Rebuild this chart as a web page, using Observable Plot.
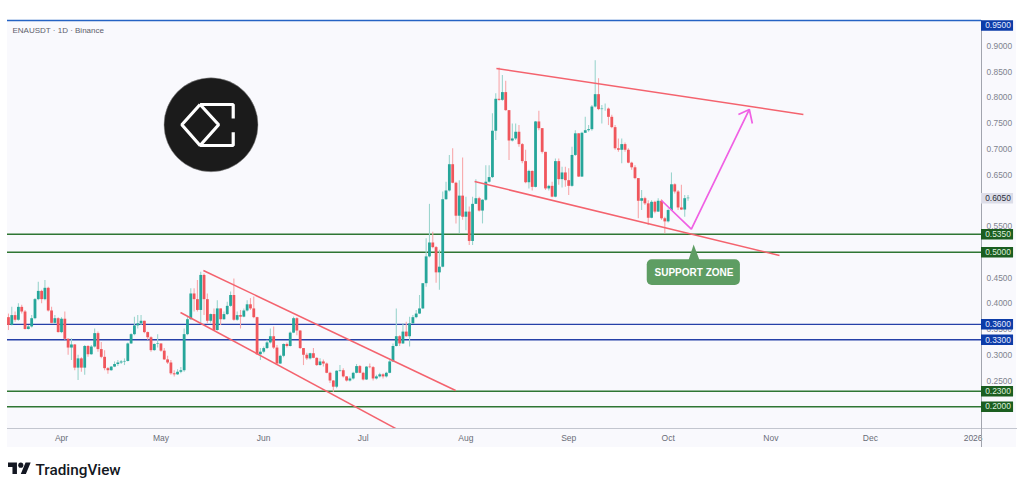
<!DOCTYPE html>
<html>
<head>
<meta charset="utf-8">
<script src="https://cdn.jsdelivr.net/npm/d3@7"></script>
<script src="https://cdn.jsdelivr.net/npm/@observablehq/plot@0.6"></script>
<style>
html,body{margin:0;padding:0;background:#fff;width:1024px;height:490px;overflow:hidden}
#wrap{position:relative;width:1024px;height:490px}
#panel{position:absolute;left:7px;top:20px;width:1009px;height:427px;background:#f9f9fd}
#chart{position:absolute;left:0;top:0}
#tv{position:absolute;left:8px;top:460px}
</style>
</head>
<body>
<div id="wrap">
<div id="panel"></div>
<div id="chart"></div>
<svg id="tv" width="23" height="18" viewBox="0 0 36 28"><path fill="#131722" d="M14 22H7V11H0V4h14v18zM28 22h-8l7.5-18h8L28 22z"/><circle fill="#131722" cx="20" cy="8" r="4"/></svg>
</div>
<script>
const firstDate = new Date(Date.UTC(2025, 2, 16));
const firstOpen = 0.373;
const closes = [.358,.377,.368,.393,.384,.350,.355,.371,.408,.424,.408,.430,.386,.362,.371,.344,.370,.331,.314,.320,
.275,.293,.275,.317,.301,.316,.342,.311,.296,.274,.270,.277,.282,.285,.287,.288,.322,.340,.357,.361,
.366,.344,.334,.309,.321,.322,.308,.291,.285,.264,.262,.267,.270,.340,.369,.419,.408,.387,.455,.408,
.366,.379,.348,.390,.369,.379,.395,.416,.368,.377,.374,.386,.398,.390,.373,.301,.306,.313,.324,.336,
.314,.283,.298,.321,.317,.343,.371,.347,.313,.300,.293,.303,.294,.280,.287,.283,.265,.250,.238,.269,
.270,.258,.250,.254,.265,.278,.265,.252,.277,.276,.254,.258,.262,.258,.265,.287,.317,.336,.322,.345,
.336,.361,.373,.380,.390,.439,.491,.518,.509,.460,.471,.602,.619,.670,.634,.570,.609,.568,.578,.521,
.593,.604,.580,.601,.636,.645,.735,.797,.795,.810,.775,.716,.720,.733,.709,.676,.635,.657,.626,.753,
.740,.694,.623,.628,.607,.676,.641,.654,.639,.628,.688,.730,.646,.731,.736,.738,.782,.806,.777,.778,
.778,.762,.742,.701,.698,.709,.698,.673,.664,.643,.599,.604,.594,.566,.597,.578,.599,.565,.559,.581,
.631,.617,.586,.582,.604,.605];
const highs = [.380,.393,.384,.400,.397,.387,.358,.377,.410,.442,.426,.445,.432,.393,.377,.373,.373,.384,.332,.332,
.321,.300,.295,.319,.319,.319,.351,.345,.325,.309,.276,.278,.287,.290,.290,.293,.324,.342,.374,.377,
.377,.366,.345,.336,.322,.340,.322,.313,.298,.290,.270,.272,.276,.351,.374,.429,.429,.445,.461,.458,
.419,.380,.390,.406,.390,.384,.403,.423,.448,.384,.387,.390,.406,.410,.413,.374,.313,.316,.329,.351,
.355,.319,.300,.322,.324,.345,.374,.373,.348,.313,.304,.304,.313,.295,.293,.291,.285,.267,.251,.270,
.280,.274,.259,.258,.267,.282,.280,.267,.278,.283,.278,.261,.265,.264,.267,.290,.322,.390,.338,.361,
.364,.374,.377,.387,.416,.438,.526,.593,.539,.511,.504,.617,.636,.688,.701,.636,.639,.683,.607,.588,
.607,.641,.607,.602,.668,.668,.769,.808,.858,.843,.832,.775,.749,.749,.746,.711,.698,.659,.658,.754,
.774,.740,.694,.630,.636,.681,.681,.665,.665,.662,.704,.736,.730,.733,.762,.746,.785,.872,.837,.785,
.788,.780,.766,.746,.720,.720,.712,.701,.675,.668,.643,.620,.607,.600,.600,.599,.604,.602,.568,.584,
.654,.633,.620,.630,.610,.610];
const lows = [.348,.357,.364,.366,.380,.349,.349,.353,.369,.406,.400,.406,.384,.361,.360,.343,.342,.329,.300,.290,
.270,.251,.267,.261,.296,.300,.314,.306,.293,.270,.263,.269,.276,.278,.282,.280,.287,.321,.338,.351,
.358,.342,.329,.306,.308,.314,.306,.290,.282,.261,.258,.261,.264,.267,.338,.368,.384,.384,.361,.377,
.361,.362,.347,.347,.358,.368,.377,.393,.366,.366,.351,.373,.384,.387,.371,.300,.290,.303,.311,.322,
.311,.282,.282,.295,.314,.316,.342,.338,.311,.280,.290,.291,.293,.278,.279,.277,.264,.245,.228,.235,
.267,.256,.248,.248,.252,.264,.264,.250,.251,.274,.250,.252,.256,.254,.256,.264,.287,.316,.317,.321,
.335,.316,.360,.371,.379,.389,.432,.489,.507,.440,.426,.470,.601,.617,.633,.555,.536,.562,.542,.513,
.513,.593,.578,.555,.599,.634,.643,.717,.793,.793,.774,.678,.714,.717,.704,.672,.633,.623,.619,.625,
.736,.691,.620,.619,.606,.606,.630,.625,.626,.610,.626,.686,.645,.645,.731,.733,.735,.780,.775,.749,
.774,.746,.740,.698,.694,.672,.694,.672,.659,.641,.565,.581,.591,.552,.565,.575,.577,.562,.536,.557,
.580,.613,.581,.581,.568,.599];

const monthLabels = ["Apr","May","Jun","Jul","Aug","Sep","Oct","Nov","Dec","2026"];
const monthStarts = [[2025,3],[2025,4],[2025,5],[2025,6],[2025,7],[2025,8],[2025,9],[2025,10],[2025,11],[2026,0]];
const priceTicks = [.25,.30,.35,.40,.45,.55,.65,.70,.75,.80,.85,.90];
const topLevel = [.95];
const blueLevels = [.36,.33];
const greenLevels = [.535,.50,.23,.20];
const lastPrice = 0.605;

// trend drawings, in [days after 1 Apr 2025, price]
const flagTop = [[131.2,.8568],[223.8,.7675]];
const flagBottom = [[124.6,.6374],[216.6,.4937]];
const channelTop = [[42.8,.4646],[118.9,.2316]];
const channelBottom = [[35.9,.3830],[105.3,.1422]];
const arrowPath = [[181,.6005],[190,.5451],[207.5,.7772]];
const arrowHead = [[204.2,.7675],[207.5,.7772],[208.4,.75]];
const logoCentre = [[45.1,.7475]];
const logoDiamond = [[41.8,.7869],[36.3,.7475],[41.8,.7073],[47.4,.7475],[41.8,.7869]];
const logoBracketTop = [[41.8,.7869],[51.8,.7869],[51.8,.7597]];
const logoBracketBottom = [[41.8,.7073],[51.8,.7073],[51.8,.7331]];
const noteBox = [[176.7,.4853,204.8,.4354]];
const notePointer = [[190.7,.5150],[189.1,.4840],[192.5,.4840],[190.7,.5150]];
const noteAnchor = [[190.8,.4607]];

const apr1 = Date.UTC(2025,3,1);
const day = n => new Date(apr1 + n*864e5);
const pts = a => a.map(([d,p]) => ({d:day(d),p}));

const xStart = day(-16.29), xEnd = day(277.53), tagEnd = day(287.2), panelEnd = day(288.4);
const yMin = 0.1578, yMax = 0.95, yBottom = 0.1209;

const opens = [firstOpen, ...closes.slice(0,-1)];
const candles = closes.map((c,i)=>({date:d3.utcDay.offset(firstDate,i),o:opens[i],c,h:highs[i],l:lows[i],up:c>=opens[i]}));
const up = "#26a69a", down = "#f0565c", upWick = "#9cd5ce", downWick = "#f8a8ab";
const trendRed = "#f4636e", pink = "#f060e4", lineGreen = "#2f7633", lineBlue = "#2540a8", topBlue = "#2563c4", tagGreen = "#1b5e20", tagBlue = "#0d3ca8";
const levelLine = (vals,color)=>Plot.ruleY(vals,{x1:xStart,x2:xEnd,y:d=>d,stroke:color,strokeWidth:1.4});
const seg = (a,color,w=1.5)=>Plot.line(pts(a),{x:"d",y:"p",stroke:color,strokeWidth:w,clip:"frame",strokeLinejoin:"miter",strokeLinecap:"butt"});

const tag = (vals,fill,color,dy=0)=>[
  Plot.ruleY(vals,{x1:xEnd,x2:tagEnd,y:d=>d,stroke:fill,strokeWidth:10.5,dy}),
  Plot.text(vals,{x:xEnd,y:d=>d,text:d=>d.toFixed(4),dx:16.5,dy,fill:color,fontSize:8.4,textAnchor:"middle"})
];

const plot = Plot.plot({
  width:1024,height:490,
  marginLeft:7,marginRight:43,marginTop:20,marginBottom:62,
  style:{background:"transparent",fontFamily:"'Liberation Sans',Arial,sans-serif",overflow:"visible"},
  x:{type:"utc",domain:[xStart,xEnd],range:[7,981]},
  y:{type:"linear",domain:[yMin,yMax],range:[428,20]},
  marks:[
    Plot.axisX({ticks:monthStarts.map(([y,m])=>new Date(Date.UTC(y,m,1))),tickSize:0,tickPadding:6,fontSize:8.5,color:"#6a6d78",label:null,
      tickFormat:d=>monthLabels[monthStarts.findIndex(([y,m])=>y===d.getUTCFullYear()&&m===d.getUTCMonth())]}),
    Plot.axisY({anchor:"right",ticks:priceTicks,tickSize:0,tickPadding:5,fontSize:8.4,color:"#80838e",label:null,tickFormat:".4f"}),
    Plot.ruleY([yMin],{x1:xStart,x2:panelEnd,y:d=>d,stroke:"#c3c6cf",strokeWidth:1}),
    Plot.ruleX([xEnd],{x:d=>d,y1:yMax,y2:yBottom,stroke:"#a2a5ae",strokeWidth:1}),
    levelLine(topLevel,topBlue),
    levelLine(blueLevels,lineBlue),
    levelLine(greenLevels,lineGreen),
    Plot.ruleX(candles,{x:"date",y1:"l",y2:"h",stroke:d=>d.up?upWick:downWick,strokeWidth:1.1}),
    Plot.ruleX(candles,{x:"date",y1:"o",y2:"c",stroke:d=>d.up?up:down,strokeWidth:2.8}),
    seg(flagTop,trendRed),seg(flagBottom,trendRed),seg(channelTop,trendRed),seg(channelBottom,trendRed),
    seg(arrowPath,pink,1.7),seg(arrowHead,pink,1.7),
    Plot.dot(pts(logoCentre),{x:"d",y:"p",r:47,fill:"#1b1b1b",stroke:"#9a9a9a",strokeWidth:1,strokeOpacity:.5}),
    seg(logoDiamond,"#fff",3.2),seg(logoBracketTop,"#fff",3.2),seg(logoBracketBottom,"#fff",3.2),
    Plot.line(pts(notePointer),{x:"d",y:"p",fill:"#5e9d63",stroke:"none"}),
    Plot.rect(noteBox,{x1:d=>day(d[0]),y1:d=>d[1],x2:d=>day(d[2]),y2:d=>d[3],fill:"#5e9d63",rx:5}),
    Plot.text(pts(noteAnchor),{x:"d",y:"p",text:()=>"SUPPORT ZONE",fill:"#fff",fontSize:10,fontWeight:"bold",textAnchor:"middle",letterSpacing:.2}),
    ...tag([lastPrice],"#dcdde8","#2a2e39"),
    ...tag(greenLevels,tagGreen,"#dfeedd"),
    ...tag(blueLevels,tagBlue,"#e4ebff"),
    ...tag(topLevel,tagBlue,"#e4ebff",5),
    Plot.text(["ENAUSDT · 1D · Binance"],{frameAnchor:"top-left",dx:5,dy:6.5,text:d=>d,fontSize:8,fill:"#5d606b",textAnchor:"start"}),
    Plot.text(["TradingView"],{frameAnchor:"bottom-left",dx:28,dy:46,text:d=>d,fontSize:15.3,fontWeight:500,fill:"#131722",fontFamily:"Roboto",textAnchor:"start",lineAnchor:"bottom"})
  ]
});
document.getElementById("chart").appendChild(plot);
</script>
</body>
</html>
